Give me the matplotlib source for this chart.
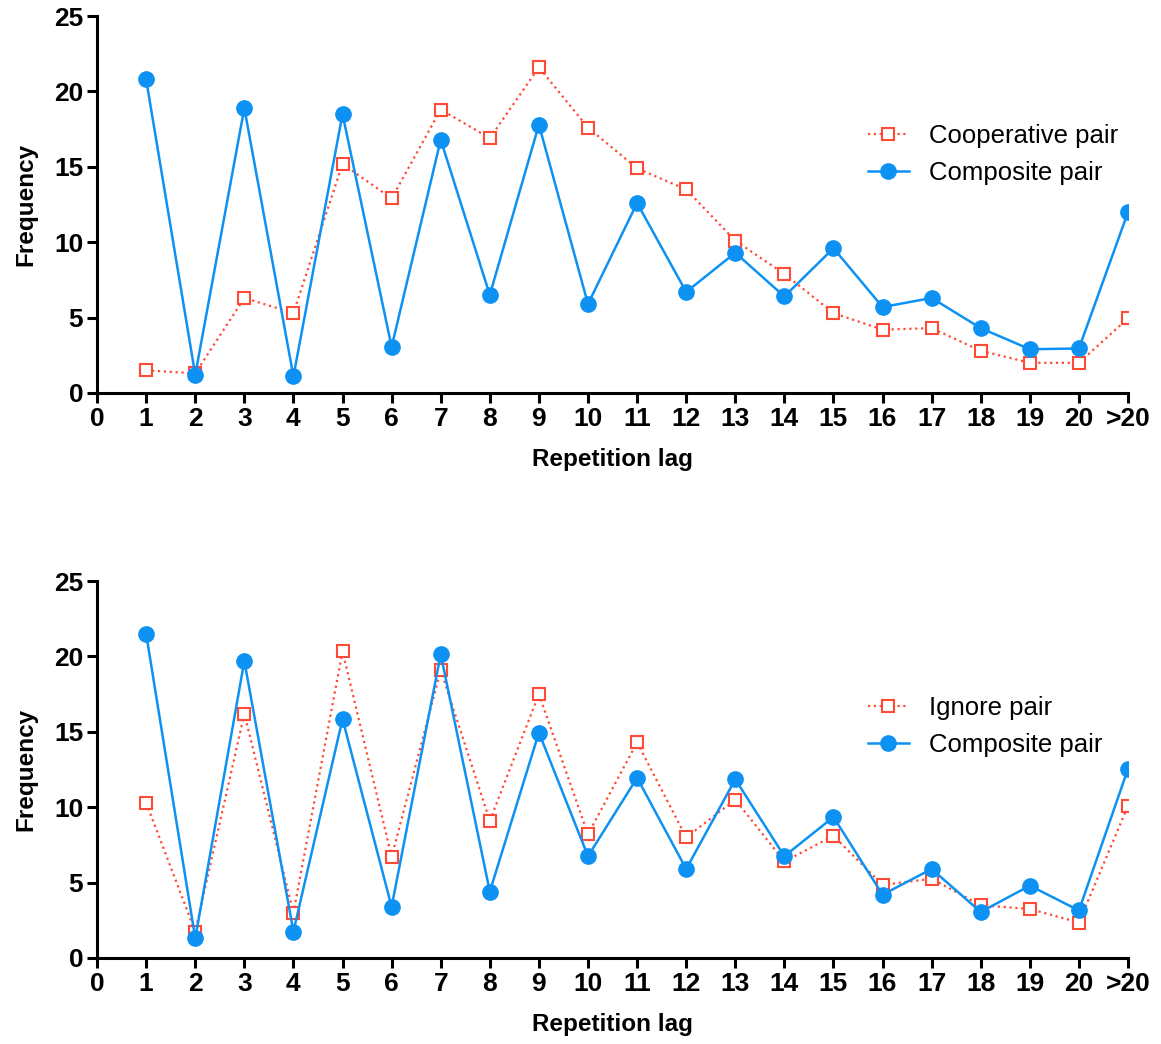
import matplotlib
matplotlib.use("Agg")
import matplotlib.pyplot as plt

plt.rcParams['font.family'] = ['Liberation Sans', 'DejaVu Sans']

lags = list(range(1, 22))
tick_labels = [str(i) for i in range(0, 21)] + ['>20']

# top panel
cooperative = [1.5, 1.3, 6.3, 5.3, 15.2, 12.9, 18.8, 16.9, 21.6, 17.6, 14.9,
               13.5, 10.1, 7.9, 5.3, 4.2, 4.3, 2.8, 2.0, 2.0, 4.95]
composite_top = [20.8, 1.2, 18.9, 1.1, 18.5, 3.05, 16.8, 6.5, 17.8, 5.9, 12.6,
                 6.7, 9.3, 6.4, 9.6, 5.7, 6.3, 4.3, 2.9, 2.95, 12.0]

# bottom panel
ignore = [10.3, 1.75, 16.2, 3.0, 20.35, 6.7, 19.1, 9.1, 17.5, 8.2, 14.3,
          8.0, 10.5, 6.4, 8.1, 4.85, 5.25, 3.5, 3.25, 2.35, 10.1]
composite_bot = [21.5, 1.3, 19.7, 1.75, 15.85, 3.4, 20.15, 4.4, 14.95, 6.75, 11.95,
                 5.9, 11.85, 6.75, 9.35, 4.2, 5.9, 3.05, 4.8, 3.15, 12.55]

red = '#FF4A36'
blue = '#0D92F4'

fig = plt.figure(figsize=[11.61, 10.44], dpi=100)
ax1 = fig.add_axes([0.0836, 0.6236, 0.888, 0.361])
ax2 = fig.add_axes([0.0836, 0.0824, 0.888, 0.361])

panels = [(ax1, cooperative, composite_top, 'Cooperative pair', 0.775),
          (ax2, ignore, composite_bot, 'Ignore pair', 0.757)]

for ax, red_vals, blue_vals, red_name, leg_y in panels:
    ax.plot(lags, red_vals, linestyle=':', color=red, linewidth=1.6,
            marker='s', markersize=8, markerfacecolor='white',
            markeredgecolor=red, markeredgewidth=1.5, label=red_name, zorder=2)
    ax.plot(lags, blue_vals, linestyle='-', color=blue, linewidth=1.8,
            marker='o', markersize=11, markerfacecolor=blue,
            markeredgecolor=blue, label='Composite pair', zorder=3)
    ax.set_xlim(0, 21)
    ax.set_ylim(0, 25)
    ax.set_xticks(range(0, 22))
    ax.set_xticklabels(tick_labels)
    ax.set_yticks([0, 5, 10, 15, 20, 25])
    for side in ['top', 'right']:
        ax.spines[side].set_visible(False)
    for side in ['left', 'bottom']:
        ax.spines[side].set_linewidth(2.2)
    ax.tick_params(axis='both', direction='out', length=7, width=2.2,
                   labelsize=19, pad=3)
    for lbl in ax.get_xticklabels() + ax.get_yticklabels():
        lbl.set_fontweight('bold')
    ax.set_xlabel('Repetition lag', fontsize=17.5, fontweight='bold', labelpad=12)
    ax.set_ylabel('Frequency', fontsize=17.5, fontweight='bold', labelpad=12)
    ax.legend(loc='upper left', bbox_to_anchor=(0.725, leg_y), frameon=False,
              fontsize=18.5, handlelength=1.6, handletextpad=0.8, labelspacing=0.5)

fig.savefig('out.png', dpi=100)
